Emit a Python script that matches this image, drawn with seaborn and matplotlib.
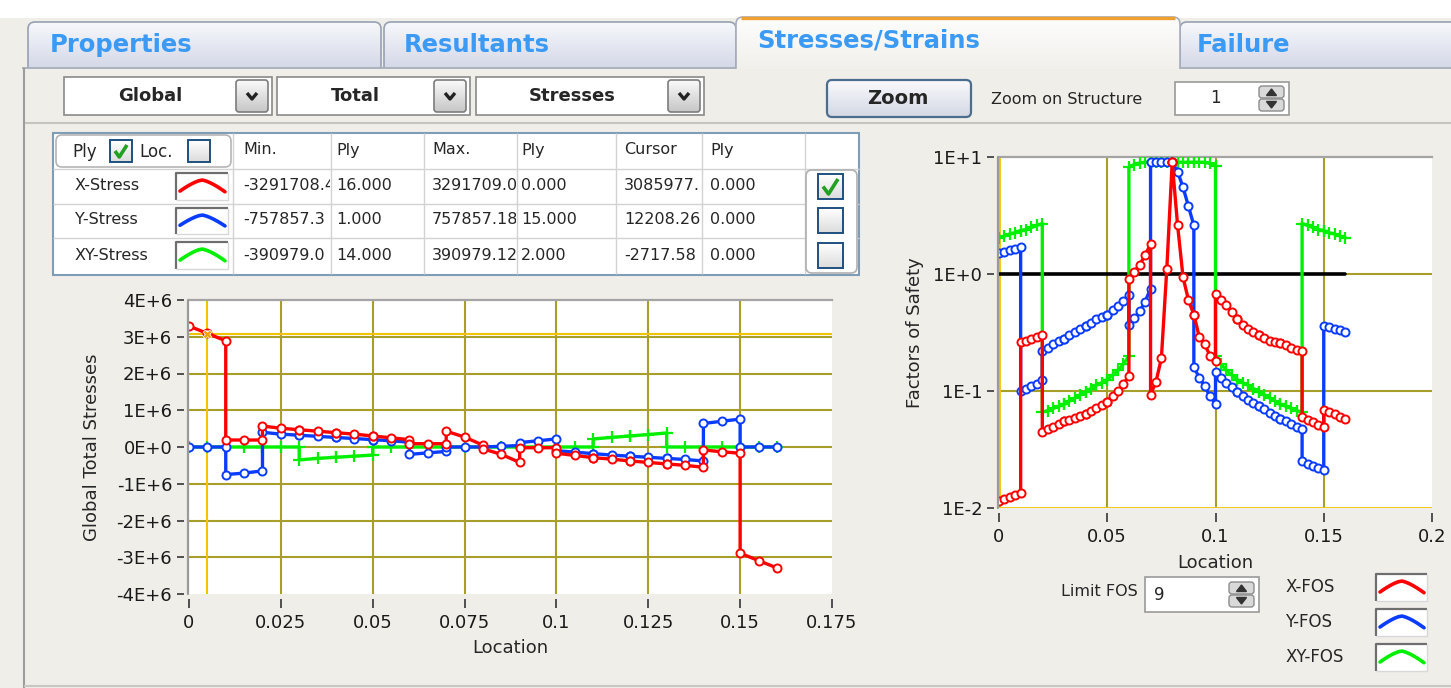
import numpy as np
import pandas as pd
import matplotlib
matplotlib.use('Agg')
import matplotlib.pyplot as plt
import seaborn as sns
from matplotlib.patches import Rectangle, FancyBboxPatch
from matplotlib.colors import LinearSegmentedColormap
from matplotlib.transforms import Bbox, TransformedBbox, offset_copy
from matplotlib.ticker import FixedLocator, FixedFormatter, NullLocator

sns.set_style('white')
plt.rcParams['font.family'] = ['DejaVu Sans']

W, H = 1451, 688

# ------------------------------------------------------------------ data
stress_location = [
    0.00, 0.005, 0.01, 0.01, 0.015, 0.02, 0.02, 0.025, 0.03, 0.03, 0.035, 0.04,
    0.04, 0.045, 0.05, 0.05, 0.055, 0.06, 0.06, 0.065, 0.07, 0.07, 0.075, 0.08,
    0.08, 0.085, 0.09, 0.09, 0.095, 0.10, 0.10, 0.105, 0.11, 0.11, 0.115, 0.12,
    0.12, 0.125, 0.13, 0.13, 0.135, 0.14, 0.14, 0.145, 0.15, 0.15, 0.155, 0.16]

x_stress = [
    3.29e6, 3.09e6, 2.89e6, 0.19e6, 0.19e6, 0.19e6, 0.57e6, 0.51e6, 0.47e6,
    0.47e6, 0.43e6, 0.39e6, 0.39e6, 0.35e6, 0.30e6, 0.30e6, 0.25e6, 0.20e6,
    0.09e6, 0.09e6, 0.09e6, 0.43e6, 0.27e6, 0.05e6, -0.05e6, -0.20e6, -0.42e6,
    -0.02e6, -0.02e6, -0.02e6, -0.17e6, -0.23e6, -0.29e6, -0.29e6, -0.33e6, -0.38e6,
    -0.38e6, -0.42e6, -0.46e6, -0.46e6, -0.50e6, -0.55e6, -0.08e6, -0.13e6, -0.17e6,
    -2.89e6, -3.09e6, -3.29e6]

y_stress = [
    0.0, 0.0, 0.0, -0.75e6, -0.71e6, -0.65e6, 0.40e6, 0.35e6, 0.32e6,
    0.32e6, 0.29e6, 0.26e6, 0.26e6, 0.23e6, 0.20e6, 0.20e6, 0.17e6, 0.13e6,
    -0.20e6, -0.16e6, -0.12e6, 0.0, 0.0, 0.0, 0.0, 0.02e6, 0.04e6,
    0.12e6, 0.17e6, 0.22e6, -0.10e6, -0.14e6, -0.18e6, -0.18e6, -0.22e6, -0.25e6,
    -0.25e6, -0.28e6, -0.31e6, -0.31e6, -0.34e6, -0.38e6, 0.64e6, 0.70e6, 0.76e6,
    0.0, 0.0, 0.0]

xy_stress = [
    0.0, 0.0, 0.0, 0.0, 0.0, 0.0, 0.0, 0.0, 0.0,
    -0.35e6, -0.31e6, -0.28e6, -0.28e6, -0.25e6, -0.22e6, 0.0, 0.0, 0.0,
    0.0, 0.0, 0.0, 0.0, 0.0, 0.0, 0.0, 0.0, 0.0,
    0.0, 0.0, 0.0, 0.0, 0.0, 0.0, 0.22e6, 0.26e6, 0.30e6,
    0.30e6, 0.34e6, 0.38e6, 0.0, 0.0, 0.0, 0.0, 0.0, 0.0,
    0.0, 0.0, 0.0]

cursor_location = [0.005]
cursor_value = [3085977.31]

fos_location = [
    0.0, 0.0025, 0.005, 0.0075, 0.01, 0.01, 0.0125, 0.015, 0.0175, 0.02,
    0.02, 0.0225, 0.025, 0.0275, 0.03, 0.03, 0.0325, 0.035, 0.0375, 0.04,
    0.04, 0.0425, 0.045, 0.0475, 0.05, 0.05, 0.0525, 0.055, 0.0575, 0.06,
    0.06, 0.0625, 0.065, 0.0675, 0.07, 0.07, 0.0725, 0.075, 0.0775, 0.08,
    0.08, 0.0825, 0.085, 0.0875, 0.09, 0.09, 0.0925, 0.095, 0.0975, 0.10,
    0.10, 0.1025, 0.105, 0.1075, 0.11, 0.11, 0.1125, 0.115, 0.1175, 0.12,
    0.12, 0.1225, 0.125, 0.1275, 0.13, 0.13, 0.1325, 0.135, 0.1375, 0.14,
    0.14, 0.1425, 0.145, 0.1475, 0.15, 0.15, 0.1525, 0.155, 0.1575, 0.16]

x_fos = [
    0.0115, 0.012, 0.0125, 0.013, 0.0135, 0.26, 0.27, 0.28, 0.29, 0.30,
    0.045, 0.047, 0.049, 0.052, 0.055, 0.055, 0.057, 0.059, 0.061, 0.063,
    0.063, 0.067, 0.071, 0.076, 0.081, 0.081, 0.090, 0.100, 0.115, 0.135,
    0.90, 1.05, 1.20, 1.45, 1.80, 0.093, 0.12, 0.19, 1.1, 9.0,
    9.0, 2.6, 0.94, 0.60, 0.45, 0.45, 0.29, 0.25, 0.20, 0.18,
    0.67, 0.60, 0.54, 0.47, 0.41, 0.41, 0.37, 0.34, 0.32, 0.30,
    0.30, 0.285, 0.27, 0.26, 0.255, 0.255, 0.245, 0.235, 0.225, 0.22,
    0.060, 0.057, 0.054, 0.051, 0.049, 0.069, 0.066, 0.063, 0.060, 0.058]

y_fos = [
    1.50, 1.55, 1.60, 1.65, 1.70, 0.10, 0.105, 0.11, 0.115, 0.125,
    0.22, 0.235, 0.25, 0.265, 0.28, 0.28, 0.30, 0.32, 0.34, 0.36,
    0.36, 0.385, 0.41, 0.43, 0.45, 0.45, 0.49, 0.53, 0.59, 0.66,
    0.37, 0.42, 0.48, 0.58, 0.75, 9.0, 9.0, 9.0, 9.0, 9.0,
    9.0, 7.5, 5.5, 3.8, 2.6, 0.16, 0.13, 0.11, 0.09, 0.078,
    0.145, 0.13, 0.118, 0.108, 0.098, 0.098, 0.090, 0.084, 0.079, 0.075,
    0.075, 0.070, 0.065, 0.061, 0.058, 0.058, 0.055, 0.052, 0.049, 0.047,
    0.025, 0.024, 0.023, 0.022, 0.021, 0.36, 0.35, 0.34, 0.33, 0.32]

xy_fos = [
    2.05, 2.10, 2.20, 2.25, 2.35, 2.35, 2.40, 2.50, 2.60, 2.70,
    0.066, 0.068, 0.071, 0.074, 0.077, 0.077, 0.082, 0.087, 0.093, 0.099,
    0.099, 0.105, 0.112, 0.118, 0.125, 0.125, 0.137, 0.150, 0.170, 0.200,
    8.2, 8.6, 8.9, 9.0, 9.0, 9.0, 9.0, 9.0, 9.0, 9.0,
    9.0, 9.0, 9.0, 9.0, 9.0, 9.0, 9.0, 9.0, 8.8, 8.4,
    0.200, 0.170, 0.150, 0.137, 0.125, 0.125, 0.118, 0.112, 0.105, 0.099,
    0.099, 0.093, 0.087, 0.082, 0.077, 0.077, 0.074, 0.071, 0.068, 0.066,
    2.70, 2.60, 2.50, 2.40, 2.35, 2.35, 2.25, 2.20, 2.10, 2.05]

limit_location = [0.0, 0.16]
limit_fos = [1.0, 1.0]

stress_xticks = [0, 0.025, 0.05, 0.075, 0.1, 0.125, 0.15, 0.175]
stress_xlabels = ['0', '0.025', '0.05', '0.075', '0.1', '0.125', '0.15', '0.175']
stress_yticks = [-4e6, -3e6, -2e6, -1e6, 0, 1e6, 2e6, 3e6, 4e6]
stress_ylabels = ['-4E+6', '-3E+6', '-2E+6', '-1E+6', '0E+0', '1E+6', '2E+6', '3E+6', '4E+6']
fos_xticks = [0, 0.05, 0.1, 0.15, 0.2]
fos_xlabels = ['0', '0.05', '0.1', '0.15', '0.2']
fos_yticks = [0.01, 0.1, 1.0, 10.0]
fos_ylabels = ['1E-2', '1E-1', '1E+0', '1E+1']

tab_names = ['Properties', 'Resultants', 'Stresses/Strains', 'Failure']
dropdown_labels = ['Global', 'Total', 'Stresses']
table_header = ['Min.', 'Ply', 'Max.', 'Ply', 'Cursor', 'Ply']
table_series = ['X-Stress', 'Y-Stress', 'XY-Stress']
table_min = ['-3291708.4', '-757857.3', '-390979.0']
table_min_ply = ['16.000', '1.000', '14.000']
table_max = ['3291709.0', '757857.18', '390979.12']
table_max_ply = ['0.000', '15.000', '2.000']
table_cursor = ['3085977.', '12208.26', '-2717.58']
table_cursor_ply = ['0.000', '0.000', '0.000']
table_checked = [True, False, False]
fos_names = ['X-FOS', 'Y-FOS', 'XY-FOS']
limit_fos_value = '9'
zoom_structure_value = '1'

RED, BLUE, GREEN = '#ff0000', '#0a3cff', '#00f000'
OLIVE, GOLD = '#a89f2a', '#f2c400'
TAB_BLUE = '#3a9af5'
PANEL = '#efeee9'

# ------------------------------------------------------------------ figure
fig = plt.figure(figsize=(W / 100, H / 100), dpi=100)
fig.patch.set_facecolor(PANEL)
bg = fig.add_axes([0, 0, 1, 1], zorder=-10)
bg.axis('off')


def rrect(x0, y0, x1, y1, fc='none', ec='none', lw=1.0, z=1, r=0):
    if r > 0:
        p = FancyBboxPatch((x0, y0), x1 - x0, y1 - y0,
                           boxstyle=f'round,pad=0,rounding_size={r}',
                           fc=fc, ec=ec, lw=lw, zorder=z)
    else:
        p = Rectangle((x0, y0), x1 - x0, y1 - y0, fc=fc, ec=ec, lw=lw, zorder=z)
    bg.add_patch(p)
    return p


def gradient(x0, y0, x1, y1, c0, c1, z=1, clip=None):
    cmap = LinearSegmentedColormap.from_list('g', [c0, c1])
    g = np.linspace(0, 1, 64).reshape(-1, 1)
    im = bg.imshow(g, cmap=cmap, extent=(x0, x1, y1, y0), aspect='auto',
                   origin='upper', zorder=z, interpolation='bilinear')
    if clip is not None:
        im.set_clip_path(clip)
    return im


def line(xs, ys, color, lw=1.0, z=2, **kw):
    bg.plot(xs, ys, color=color, lw=lw, zorder=z, solid_capstyle='butt', **kw)


def checkbox(x0, y0, s, checked, z=6):
    p = rrect(x0, y0, x0 + s, y0 + s, fc='none', ec='none', z=z)
    gradient(x0, y0, x0 + s, y0 + s, '#ffffff', '#dcdcdc', z=z, clip=p)
    rrect(x0, y0, x0 + s, y0 + s, fc='none', ec='#1f4f7f', lw=1.4, z=z + 0.1)
    if checked:
        line([x0 + 5, x0 + s * 0.42, x0 + s - 5], [y0 + s * 0.5, y0 + s - 5, y0 + 5],
             '#22a022', lw=2.6, z=z + 0.2)


def spinner(x0, y0, x1, y1, z=6):
    ym = (y0 + y1) / 2
    cx = (x0 + x1) / 2
    rrect(x0, y0, x1, ym - 0.5, fc='#d9d9d9', ec='#8c8c8c', lw=1, z=z, r=3)
    rrect(x0, ym + 0.5, x1, y1, fc='#d9d9d9', ec='#8c8c8c', lw=1, z=z, r=3)
    bg.fill([cx - 5, cx, cx + 5], [ym - 3, y0 + 3, ym - 3], color='#333333', zorder=z + 0.1)
    bg.fill([cx - 5, cx, cx + 5], [ym + 3, y1 - 3, ym + 3], color='#333333', zorder=z + 0.1)


def swatch(x0, y0, x1, y1, color, z=6):
    rrect(x0, y0, x1, y1, fc='white', ec='none', z=z)
    line([x0, x0, x1], [y1, y0, y0], '#6e6e6e', lw=1.6, z=z + 0.1)
    line([x0, x1, x1], [y1, y1, y0], '#d8d8d8', lw=1.0, z=z + 0.1)
    xs = np.linspace(x0 + 4, x1 - 3, 13)
    xm, hw = (x0 + x1) / 2, (x1 - x0) / 2
    ys = (y0 + 7) + (y1 - y0 - 13) * np.abs((xs - xm) / hw) ** 1.4
    bg.plot(xs, ys, color=color, lw=2.6, zorder=z + 0.2)


def data_bbox(x0, y0, x1, y1):
    # y0 < y1 in the (top-down) pixel coordinates of the background axes
    return TransformedBbox(Bbox([[x0, y0], [x1, y1]]), bg.transData)


def clipped_text(x, y, s, clip_x1, clip_y0, clip_y1, **kw):
    t = bg.text(x, y, s, **kw)
    t.set_clip_box(data_bbox(x - 5, clip_y0, clip_x1, clip_y1))
    t.set_clip_on(True)
    return t


# top white strip
rrect(0, 0, W, 18, fc='white', z=0)

# unselected tabs
tab_boxes = [(28, 381, 50), (384, 736, 404), None, (1180, 1470, 1197)]
for name, box in zip(tab_names, tab_boxes):
    if box is None:
        continue
    x0, x1, tx = box
    p = rrect(x0, 22, x1, 90, z=1, r=7)
    gradient(x0, 22, x1, 90, '#f7f8fc', '#c3c9de', z=1.1, clip=p)
    rrect(x0, 22, x1, 90, ec='#98a0b2', lw=1.2, z=1.2, r=7)
    bg.text(tx, 45, name, color=TAB_BLUE, fontsize=17.5, fontweight='bold',
            ha='left', va='center', zorder=5)

# panel body
rrect(22, 68, W + 10, H + 10, fc=PANEL, z=2)
line([22, 737], [68, 68], '#a7adbb', lw=1.3, z=2.1)
line([1179, W], [68, 68], '#a7adbb', lw=1.3, z=2.1)

# selected tab
p = rrect(736, 17, 1180, 90, z=3, r=7)
gradient(736, 17, 1180, 69, '#fdfdfd', '#f1f0ec', z=3, clip=p)
outline = rrect(736, 17, 1180, 90, ec='#a7adbb', lw=1.2, z=3.1, r=7)
outline.set_clip_box(data_bbox(725, 0, 1195, 69))
line([741, 1175], [17.6, 17.6], '#f0a030', lw=2.4, z=3.2)
bg.text(757, 40, tab_names[2], color=TAB_BLUE, fontsize=17.5, fontweight='bold',
        ha='left', va='center', zorder=5)

# panel borders
line([24, 24], [68, H], '#9c9c9c', lw=1.5, z=2.2)
line([25, W], [123, 123], '#c4c3be', lw=1.5, z=2.2)
line([24, W], [686, 686], '#c8c7c2', lw=1.5, z=2.2)

# dropdowns
for label, (x0, x1) in zip(dropdown_labels, [(64, 272), (277, 470), (476, 704)]):
    rrect(x0, 77, x1, 115, fc='white', ec='#8a8a8a', lw=1.2, z=4)
    bx0, bx1 = x1 - 36, x1 - 4
    pb = rrect(bx0, 80, bx1, 112, z=4, r=3)
    gradient(bx0, 80, bx1, 112, '#fafafa', '#c6c6c6', z=4.1, clip=pb)
    rrect(bx0, 80, bx1, 112, ec='#7d7d7d', lw=1.2, z=4.2, r=3)
    cx = (bx0 + bx1) / 2
    line([cx - 5, cx, cx + 5], [93, 99, 93], '#222222', lw=2.4, z=4.3)
    bg.text((x0 + bx0) / 2, 96, label, fontsize=13, fontweight='bold',
            ha='center', va='center', zorder=5)

# zoom button
pz = rrect(827, 80, 971, 117, z=4, r=5)
gradient(827, 80, 971, 117, '#fbfbfd', '#d3d7e4', z=4.1, clip=pz)
rrect(827, 80, 971, 117, ec='#4d6d8f', lw=1.6, z=4.2, r=5)
bg.text(898, 98, 'Zoom', fontsize=14, fontweight='bold', ha='center', va='center', zorder=5)
bg.text(991, 100, 'Zoom on Structure', fontsize=11.5, ha='left', va='center', zorder=5)
rrect(1175, 82, 1289, 115, fc='white', ec='#9a9a9a', lw=1.2, z=4)
bg.text(1215, 98, zoom_structure_value, fontsize=12, ha='center', va='center', zorder=5)
spinner(1259, 86, 1284, 111)

# table
rrect(53, 133, 859, 275, fc='white', ec='#7f9db9', lw=1.5, z=4)
for y in [169, 204, 238]:
    line([53, 859], [y, y], '#d2d2d2', lw=1.0, z=4.2)
for x in [233, 331, 424, 517, 616, 702, 805]:
    line([x, x], [133, 274], '#d2d2d2', lw=1.0, z=4.2)
rrect(56, 135, 231, 167, fc='white', ec='#b5b5b5', lw=1.2, z=4.5, r=6)
bg.text(72, 152, 'Ply', fontsize=12, ha='left', va='center', zorder=5)
checkbox(110, 140, 22, True)
bg.text(139, 152, 'Loc.', fontsize=12, ha='left', va='center', zorder=5)
checkbox(188, 140, 22, False)
col_x = [243, 336, 432, 521, 624, 710]
col_clip = [330, 423, 516, 615, 701, 804]
for hx, h in zip(col_x, table_header):
    bg.text(hx, 150, h, fontsize=11.5, ha='left', va='center', zorder=5)
row_y = [186, 220, 255]
row_bounds = [(169, 204), (204, 238), (238, 273)]
series_colors = [RED, BLUE, GREEN]
columns = [table_min, table_min_ply, table_max, table_max_ply, table_cursor, table_cursor_ply]
for i, name in enumerate(table_series):
    bg.text(75, row_y[i], name, fontsize=11.5, ha='left', va='center', zorder=5)
    swatch(176, row_bounds[i][0] + 4, 228, row_bounds[i][1] - 4, series_colors[i])
    for cx, cc, col in zip(col_x, col_clip, columns):
        clipped_text(cx, row_y[i], col[i], cc, row_bounds[i][0], row_bounds[i][1],
                     fontsize=11.5, ha='left', va='center', zorder=5)
rrect(806, 170, 857, 273, fc='white', ec='#b0b0b0', lw=1.2, z=4.5, r=6)
for i, chk in enumerate(table_checked):
    checkbox(818, row_y[i] - 12, 25, chk)

# limit FOS and legend
bg.text(1138, 591, 'Limit FOS', fontsize=11.5, ha='right', va='center', zorder=5)
rrect(1145, 577, 1259, 612, fc='white', ec='#9a9a9a', lw=1.2, z=4)
bg.text(1154, 595, limit_fos_value, fontsize=12, ha='left', va='center', zorder=5)
spinner(1229, 582, 1254, 607)
for name, yc, col in zip(fos_names, [587, 622, 657], series_colors):
    bg.text(1285, yc, name, fontsize=12, ha='left', va='center', zorder=5)
    swatch(1376, yc - 13, 1427, yc + 14, col)

bg.set_xlim(0, W)
bg.set_ylim(H, 0)

# ------------------------------------------------------------------ plots
df_stress = pd.DataFrame({'Location': stress_location, 'X-Stress': x_stress,
                          'Y-Stress': y_stress, 'XY-Stress': xy_stress})
df_fos = pd.DataFrame({'Location': fos_location, 'X-FOS': x_fos,
                       'Y-FOS': y_fos, 'XY-FOS': xy_fos})
df_limit = pd.DataFrame({'Location': limit_location, 'FOS': limit_fos})
df_cursor = pd.DataFrame({'Location': cursor_location, 'Value': cursor_value})

TICK_OUT = 3.6


def style_axes(ax, xlen):
    ax.set_facecolor('white')
    for s in ['right', 'bottom', 'left']:
        ax.spines[s].set_visible(False)
    ax.spines['top'].set_color('#a4a4a4')
    ax.spines['top'].set_linewidth(1.6)
    ax.spines['left'].set_position(('outward', TICK_OUT))
    ax.spines['bottom'].set_position(('outward', TICK_OUT))
    ax.tick_params(axis='y', which='major', left=True, length=5, width=1.3,
                   color='#444444', labelsize=13, pad=3.5, labelcolor='#1a1a1a')
    ax.tick_params(axis='x', which='major', bottom=True, length=xlen, width=1.3,
                   color='#444444', labelsize=13, pad=4, labelcolor='#1a1a1a')
    ax.tick_params(which='minor', left=False, bottom=False)
    tr = offset_copy(ax.transAxes, fig=fig, x=-1.2, units='dots')
    ax.plot([0, 0], [0, 1], transform=tr, color='#9a9a9a', lw=1.6,
            clip_on=False, zorder=6)


def series(ax, df, col, color, marker, z):
    if marker == '+':
        sns.lineplot(data=df, x='Location', y=col, ax=ax, color=color,
                     marker='+', ms=8, mec=color, mew=1.6, lw=2.4,
                     sort=False, estimator=None, zorder=z)
    else:
        sns.lineplot(data=df, x='Location', y=col, ax=ax, color=color,
                     marker='o', ms=5.8, mfc='white', mec=color, mew=1.4, lw=2.4,
                     sort=False, estimator=None, zorder=z)


# left: stresses
axL = fig.add_axes([189 / W, 1 - 594 / H, 643 / W, 294 / H])
style_axes(axL, 6.5)
for y in stress_yticks[1:-1]:
    axL.axhline(y, color=OLIVE, lw=1.5, zorder=1)
for x in stress_xticks[1:-1]:
    axL.axvline(x, color=OLIVE, lw=1.5, zorder=1)
axL.axvline(cursor_location[0], color=GOLD, lw=1.5, zorder=1.2)
axL.axhline(cursor_value[0], color=GOLD, lw=1.5, zorder=1.2)

series(axL, df_stress, 'XY-Stress', GREEN, '+', 3)
series(axL, df_stress, 'Y-Stress', BLUE, 'o', 3.1)
series(axL, df_stress, 'X-Stress', RED, 'o', 3.2)
sns.scatterplot(data=df_cursor, x='Location', y='Value', ax=axL, marker='X',
                color='#f0a000', s=40, zorder=4, legend=False)
axL.set_xlim(0, 0.175)
axL.set_ylim(-4e6, 4e6)
axL.xaxis.set_major_locator(FixedLocator(stress_xticks))
axL.xaxis.set_major_formatter(FixedFormatter(stress_xlabels))
axL.yaxis.set_major_locator(FixedLocator(stress_yticks))
axL.yaxis.set_major_formatter(FixedFormatter(stress_ylabels))
axL.set_xlabel('Location', fontsize=13)
axL.set_ylabel('Global Total Stresses', fontsize=13)
axL.xaxis.label.set_va('center')
axL.yaxis.label.set_va('center')
axL.xaxis.set_label_coords(0.5, (594 - 648) / 294)
axL.yaxis.set_label_coords((92 - 189) / 643, 0.5)

# right: factors of safety
axR = fig.add_axes([999 / W, 1 - 508 / H, 433 / W, 351 / H])
axR.set_yscale('log')
style_axes(axR, 6.5)
for x in fos_xticks[1:-1]:
    axR.axvline(x, color=OLIVE, lw=1.5, zorder=1)
for y in fos_yticks[1:-1]:
    axR.axhline(y, color=OLIVE, lw=1.5, zorder=1)
axR.axvline(fos_xticks[0], color=GOLD, lw=2.0, zorder=1.2)
axR.axhline(fos_yticks[0], color=GOLD, lw=2.0, zorder=1.2)

sns.lineplot(data=df_limit, x='Location', y='FOS', ax=axR, color='black', lw=2.6,
             sort=False, estimator=None, zorder=2)
series(axR, df_fos, 'XY-FOS', GREEN, '+', 3)
series(axR, df_fos, 'Y-FOS', BLUE, 'o', 3.1)
series(axR, df_fos, 'X-FOS', RED, 'o', 3.2)
axR.set_xlim(0, 0.2)
axR.set_ylim(1e-2, 1e1)
axR.xaxis.set_major_locator(FixedLocator(fos_xticks))
axR.xaxis.set_major_formatter(FixedFormatter(fos_xlabels))
axR.yaxis.set_major_locator(FixedLocator(fos_yticks))
axR.yaxis.set_major_formatter(FixedFormatter(fos_ylabels))
axR.yaxis.set_minor_locator(NullLocator())
axR.set_xlabel('Location', fontsize=13)
axR.set_ylabel('Factors of Safety', fontsize=13)
axR.xaxis.label.set_va('center')
axR.yaxis.label.set_va('center')
axR.xaxis.set_label_coords(0.5, (508 - 563) / 351)
axR.yaxis.set_label_coords((915 - 999) / 433, 0.5)

fig.savefig('out.png', dpi=100, facecolor=fig.get_facecolor())
